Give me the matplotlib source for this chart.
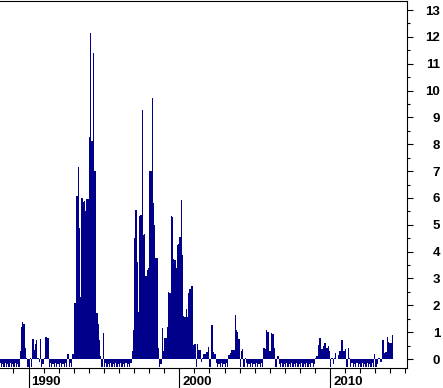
import numpy as np
import matplotlib
matplotlib.use('Agg')
import matplotlib.pyplot as plt
from matplotlib.ticker import MultipleLocator, FixedLocator
import matplotlib.transforms as mtransforms

# monthly values, Jan..Dec
start_year = 1988
y1988 = [-0.30, -0.15, -0.30, -0.20, -0.30, -0.15, -0.30, -0.20, -0.30, -0.15, -0.30, -0.20]
y1989 = [-0.30, -0.15, -0.30, -0.20, -0.30, 0.30, 1.20, 1.38, 1.30, 0.41, 0.05, -0.30]
y1990 = [-0.35, 0.05, -0.30, 0.74, 0.35, 0.55, 0.70, 0.05, -0.10, 0.75, -0.30, -0.20]
y1991 = [0.05, 0.82, 0.82, 0.78, -0.30, -0.15, -0.30, -0.20, -0.30, -0.15, -0.30, -0.20]
y1992 = [-0.30, -0.15, -0.30, -0.20, -0.30, -0.15, -0.30, 0.20, -0.30, -0.15, -0.30, 0.20]
y1993 = [2.08, 2.10, 6.07, 7.16, 4.87, 2.32, 6.00, 5.86, 5.90, 5.52, 5.95, 5.95]
y1994 = [8.28, 12.15, 8.13, 11.38, 7.00, 7.00, 1.70, 1.30, 0.70, 0.10, -0.30, 0.97]
y1995 = [-0.30, -0.15, -0.30, -0.20, -0.30, -0.15, -0.30, -0.20, -0.30, -0.15, -0.30, -0.20]
y1996 = [-0.30, -0.15, -0.30, -0.20, -0.30, -0.15, -0.30, -0.20, -0.30, -0.15, 0.30, 1.08]
y1997 = [4.52, 5.55, 3.62, 1.75, 5.33, 5.35, 9.27, 4.62, 4.67, 3.09, 3.31, 3.40]
y1998 = [7.00, 7.00, 9.73, 5.80, 4.99, 3.76, 3.76, 0.41, -0.30, -0.20, 1.15, 0.30]
y1999 = [0.78, 0.78, 1.20, 2.50, 2.45, 5.33, 5.30, 3.72, 3.67, 3.40, 4.25, 4.30]
y2000 = [4.55, 5.92, 3.88, 1.61, 1.55, 1.86, 1.57, 2.45, 2.60, 2.72, 2.72, 0.52]
y2001 = [0.55, -0.30, 0.55, 0.35, 0.35, -0.10, 0.05, 0.18, 0.18, 0.25, 0.25, 0.46]
y2002 = [-0.30, 1.27, 1.25, 0.25, 0.18, -0.15, -0.30, -0.20, -0.30, -0.15, -0.30, -0.20]
y2003 = [-0.30, -0.15, -0.30, 0.15, 0.22, 0.34, 0.34, 0.34, 1.64, 1.08, 1.02, 0.75]
y2004 = [-0.30, 0.30, 0.36, -0.30, 0.02, -0.15, -0.30, -0.20, -0.30, -0.15, -0.30, -0.20]
y2005 = [-0.30, -0.15, -0.30, -0.20, -0.30, -0.15, -0.30, 0.40, 0.38, 1.08, 1.00, 0.30]
y2006 = [0.30, 0.98, 0.95, 0.40, -0.30, -0.30, 0.10, -0.20, -0.30, -0.15, -0.30, -0.20]
y2007 = [-0.30, -0.15, -0.30, -0.20, -0.30, -0.15, -0.30, -0.20, -0.30, -0.15, -0.30, -0.20]
y2008 = [-0.30, -0.15, -0.30, -0.20, -0.30, -0.15, -0.30, -0.20, -0.30, -0.15, -0.30, -0.20]
y2009 = [0.05, 0.10, 0.52, 0.78, 0.80, 0.36, 0.50, 0.61, 0.58, 0.42, 0.50, 0.28]
y2010 = [-0.30, 0.02, -0.20, 0.05, 0.22, 0.00, 0.15, 0.30, 0.30, 0.71, 0.28, 0.28]
y2011 = [0.36, -0.30, 0.42, 0.02, -0.30, -0.15, -0.30, -0.20, -0.30, -0.15, -0.30, -0.20]
y2012 = [-0.30, -0.15, -0.30, -0.20, -0.30, -0.15, -0.30, -0.20, -0.30, -0.15, -0.30, 0.20]
y2013 = [-0.30, -0.20, 0.02, 0.05, -0.10, 0.71, 0.70, 0.22, 0.25, 0.83, 0.62, 0.60]
y2014 = [0.60, 0.89]

values = (y1988 + y1989 + y1990 + y1991 + y1992 + y1993 + y1994 + y1995 + y1996
          + y1997 + y1998 + y1999 + y2000 + y2001 + y2002 + y2003 + y2004 + y2005
          + y2006 + y2007 + y2008 + y2009 + y2010 + y2011 + y2012 + y2013 + y2014)
decade_labels = [1990, 2000, 2010]

t = start_year + np.arange(len(values)) / 12.0

fig = plt.figure(figsize=(4.43, 3.88), dpi=100)
ax = fig.add_axes([0, 20 / 388, 407 / 443, 367.5 / 388])

ax.bar(t, values, width=1 / 12, align='edge', color='#00008b',
       linewidth=0, antialiased=False)

ax.set_xlim(1988.11, 2015.10)
ax.set_ylim(-0.335, 13.354)

for s in ['top', 'right', 'bottom']:
    ax.spines[s].set_linewidth(0.8)
    ax.spines[s].set_color('black')
ax.spines['left'].set_visible(False)

# y axis on the right
ax.yaxis.tick_right()
ax.yaxis.set_major_locator(MultipleLocator(1))
ax.yaxis.set_minor_locator(MultipleLocator(0.5))
ax.tick_params(axis='y', which='major', length=4, width=0.8, pad=19.8,
               labelsize=9.5, colors='black')
ax.tick_params(axis='y', which='minor', length=2.2, width=0.8)
for lbl in ax.get_yticklabels():
    lbl.set_ha('right')
    lbl.set_fontfamily('Liberation Sans')
    lbl.set_fontweight('bold')

# x axis: yearly ticks, long ticks at decades
ax.xaxis.set_major_locator(FixedLocator(decade_labels))
ax.xaxis.set_minor_locator(MultipleLocator(1))
ax.tick_params(axis='x', which='major', length=15, width=0.8, labelbottom=False)
ax.tick_params(axis='x', which='minor', length=3.3, width=0.8)

trans = mtransforms.blended_transform_factory(ax.transData, ax.transAxes)
for yr in decade_labels:
    ax.text(yr + 0.2, -17 / 367.5, str(yr), transform=trans, ha='left',
            va='baseline', fontsize=9.5, fontweight='bold',
            family='Liberation Sans', color='black')

fig.savefig('out.png', dpi=100)
